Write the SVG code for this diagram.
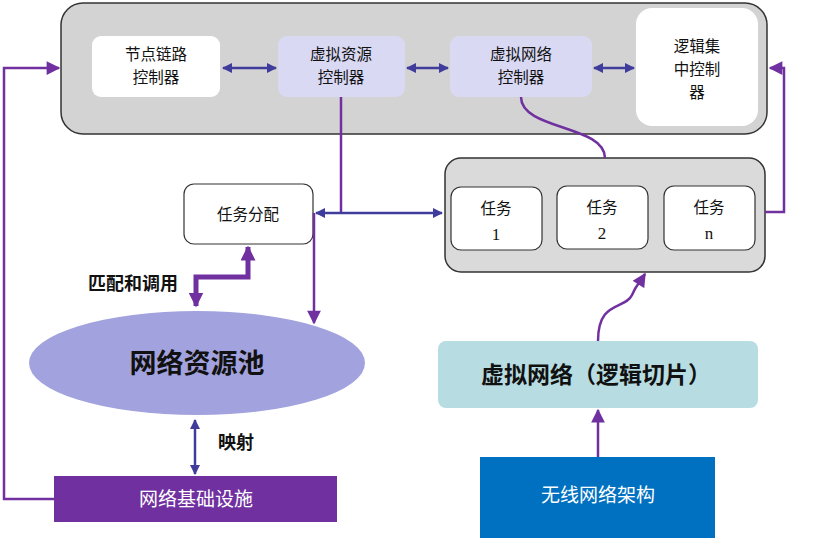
<svg xmlns="http://www.w3.org/2000/svg" width="819" height="538" viewBox="0 0 819 538">
<defs>
<style>
.t{font-family:"Noto Sans CJK SC","Noto Sans",sans-serif;font-size:15.5px;fill:#111;text-anchor:middle}
.tb{font-family:"Noto Sans CJK SC","Noto Sans",sans-serif;font-weight:bold;fill:#111;text-anchor:middle}
.num{font-family:"Liberation Serif",serif;font-size:17px;fill:#111;text-anchor:middle}
.w{font-family:"Noto Sans CJK SC","Noto Sans",sans-serif;font-size:19px;fill:#fff;text-anchor:middle}
.pl{fill:none;stroke:#7030a0;stroke-width:2.5}
.bl{fill:none;stroke:#3f3c9c;stroke-width:2.5}
</style>
<marker id="ap" viewBox="0 0 10 10" refX="9" refY="5" markerWidth="6" markerHeight="5.5" orient="auto-start-reverse" markerUnits="strokeWidth"><path d="M0,0L10,5L0,10z" fill="#7030a0"/></marker>
<marker id="ab" viewBox="0 0 10 10" refX="9" refY="5" markerWidth="4.5" markerHeight="4" orient="auto-start-reverse" markerUnits="strokeWidth"><path d="M0,0L10,5L0,10z" fill="#3f3c9c"/></marker>
<marker id="apt" viewBox="0 0 10 10" refX="9" refY="5" markerWidth="3" markerHeight="3" orient="auto-start-reverse" markerUnits="strokeWidth"><path d="M0,0L10,5L0,10z" fill="#7030a0"/></marker>
</defs>

<g id="controller-box">
<rect x="61" y="3" width="706" height="131" rx="22" fill="#d3d3d3" stroke="#333" stroke-width="1.5"/>
</g>
<g id="node-link-ctrl">
<rect x="92" y="36" width="128" height="61" rx="9" fill="#fff"/>
<text class="t" x="156" y="60">节点链路</text>
<text class="t" x="156" y="83">控制器</text>
</g>
<g id="vres-ctrl">
<rect x="278" y="36" width="127" height="61" rx="9" fill="#d9d9f4"/>
<text class="t" x="341" y="60">虚拟资源</text>
<text class="t" x="341" y="83">控制器</text>
</g>
<g id="vnet-ctrl">
<rect x="450" y="36" width="142" height="61" rx="9" fill="#d9d9f4"/>
<text class="t" x="521" y="60">虚拟网络</text>
<text class="t" x="521" y="83">控制器</text>
</g>
<g id="logic-ctrl">
<rect x="636" y="8" width="122" height="118" rx="16" fill="#fff"/>
<text class="t" x="697" y="52">逻辑集</text>
<text class="t" x="697" y="75">中控制</text>
<text class="t" x="697" y="98">器</text>
</g>

<g id="task-box">
<rect x="445" y="158" width="320" height="114" rx="16" fill="#dadada" stroke="#333" stroke-width="1.5"/>
</g>
<g id="task1">
<rect x="451" y="187" width="91" height="63" rx="10" fill="#fff" stroke="#333" stroke-width="1.2"/>
<text class="t" x="496" y="214">任务</text>
<text class="num" x="496" y="240">1</text>
</g>
<g id="task2">
<rect x="557" y="186" width="91" height="63" rx="10" fill="#fff" stroke="#333" stroke-width="1.2"/>
<text class="t" x="602" y="213">任务</text>
<text class="num" x="602" y="239">2</text>
</g>
<g id="taskn">
<rect x="664" y="186" width="91" height="64" rx="10" fill="#fff" stroke="#333" stroke-width="1.2"/>
<text class="t" x="709" y="213">任务</text>
<text class="num" x="709" y="239">n</text>
</g>

<g id="task-alloc">
<rect x="184" y="184" width="129" height="60" rx="10" fill="#fff" stroke="#333" stroke-width="1.2"/>
<text class="t" x="248" y="220" font-size="17">任务分配</text>
</g>

<g id="pool">
<ellipse cx="197" cy="363" rx="168" ry="52" fill="#a2a2de"/>
<text class="tb" x="197" y="373" font-size="27" fill="#1a1a33">网络资源池</text>
</g>

<g id="infra">
<rect x="54" y="476" width="283" height="46" fill="#7030a0"/>
<text class="w" x="196" y="506">网络基础设施</text>
</g>

<g id="vnet-slice">
<rect x="438" y="341" width="320" height="67" rx="8" fill="#b7dde3"/>
<text class="tb" x="596" y="383" font-size="23">虚拟网络（逻辑切片）</text>
</g>

<g id="wireless">
<rect x="480" y="457" width="235" height="81" fill="#0070c0"/>
<text class="w" x="598" y="502">无线网络架构</text>
</g>

<g id="labels">
<text class="tb" x="133" y="290" font-size="18">匹配和调用</text>
<text class="tb" x="236" y="449" font-size="18">映射</text>
</g>

<g id="connectors">
<line class="bl" x1="223" y1="68" x2="276" y2="68" marker-start="url(#ab)" marker-end="url(#ab)"/>
<line class="bl" x1="407" y1="68" x2="448" y2="68" marker-start="url(#ab)" marker-end="url(#ab)"/>
<line class="bl" x1="594" y1="68" x2="634" y2="68" marker-start="url(#ab)" marker-end="url(#ab)"/>
<path class="pl" d="M54,499 H4 V68 H59" marker-end="url(#ap)"/>
<path class="pl" d="M765,212 H784 V68 H770" marker-end="url(#ap)"/>
<path class="pl" d="M341,97 V213"/>
<line class="bl" x1="316" y1="213" x2="442" y2="213" marker-start="url(#ab)" marker-end="url(#ab)"/>
<path class="pl" d="M314,213 V323" marker-end="url(#ap)"/>
<path class="pl" d="M521,97 C521,130 605,125 605,158"/>
<path class="pl" d="M598,341 C598,300 625,310 632,295 C636,285 640,282 645,274" marker-end="url(#ap)"/>
<line class="pl" x1="598" y1="457" x2="598" y2="410" marker-end="url(#ap)"/>
<line class="bl" x1="195" y1="420" x2="195" y2="474" marker-start="url(#ab)" marker-end="url(#ab)"/>
<path fill="none" stroke="#7030a0" stroke-width="5" d="M248,247 V277 H196 V306" marker-start="url(#apt)" marker-end="url(#apt)"/>
</g>
</svg>
